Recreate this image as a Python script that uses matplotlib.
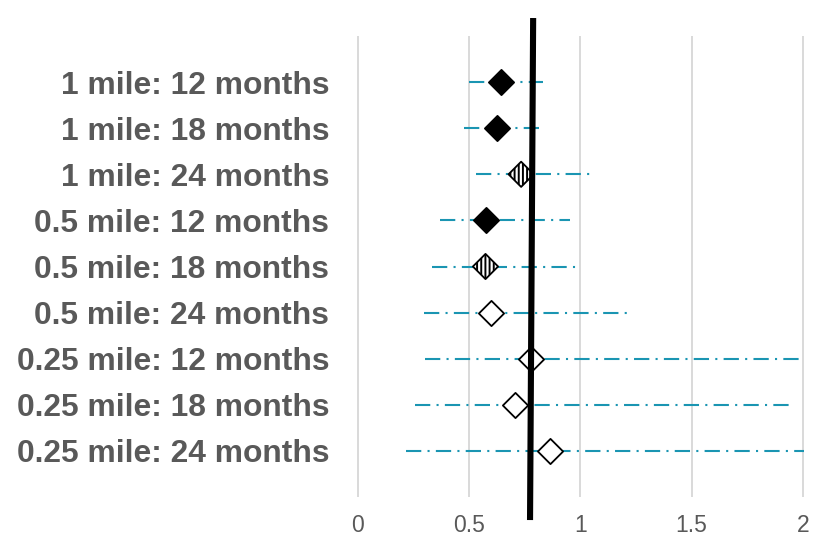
import matplotlib
matplotlib.use("Agg")
import matplotlib.pyplot as plt

plt.rcParams['font.family'] = ['Liberation Sans', 'DejaVu Sans']
plt.rcParams['hatch.linewidth'] = 1.4
plt.rcParams['lines.scale_dashes'] = False

labels = ["1 mile: 12 months", "1 mile: 18 months", "1 mile: 24 months",
          "0.5 mile: 12 months", "0.5 mile: 18 months", "0.5 mile: 24 months",
          "0.25 mile: 12 months", "0.25 mile: 18 months", "0.25 mile: 24 months"]
estimate = [0.644, 0.627, 0.734, 0.575, 0.574, 0.599, 0.777, 0.708, 0.865]
ci_low = [0.500, 0.479, 0.531, 0.370, 0.332, 0.299, 0.301, 0.259, 0.218]
ci_high = [0.831, 0.822, 1.048, 0.954, 1.002, 1.210, 1.997, 1.945, 2.005]
# marker style per row: filled / hatched / open
style = ["filled", "filled", "hatched", "filled", "hatched",
         "open", "open", "open", "open"]
# reference line (drawn slightly tilted in the original)
ref_x = [0.788, 0.774]
ref_y = [-0.39, 10.5]

teal = "#1a95b2"
grey = "#595959"

fig = plt.figure(figsize=(8.17, 5.38), dpi=100)
ax = fig.add_axes([350 / 817, 1 - 497 / 538, 456 / 817, 461 / 538])

rows = list(range(1, len(labels) + 1))

for r, lo, hi in zip(rows, ci_low, ci_high):
    ax.plot([lo, hi], [r, r], color=teal, lw=1.5,
            linestyle=(0, (11, 4.5, 1.5, 4.5)), zorder=2)

for r, est, st in zip(rows, estimate, style):
    if st == "filled":
        ax.scatter([est], [r], marker="D", s=165, facecolor="black",
                   edgecolor="black", linewidth=1.3, zorder=3)
    elif st == "hatched":
        ax.scatter([est], [r], marker="D", s=165, facecolor="white",
                   edgecolor="black", hatch="||||", linewidth=1.3, zorder=3)
    else:
        ax.scatter([est], [r], marker="D", s=165, facecolor="white",
                   edgecolor="black", linewidth=1.3, zorder=3)

ax.plot(ref_x, ref_y, color="black", lw=4.4, solid_capstyle="butt",
        clip_on=False, zorder=4)

ax.set_xlim(-0.0346, 2.0135)
ax.set_ylim(10, 0)
ax.set_xticks([0, 0.5, 1, 1.5, 2])
ax.set_xticklabels(["0", "0.5", "1", "1.5", "2"])
ax.set_yticks(rows)
ax.set_yticklabels(labels, fontweight="bold")
ax.tick_params(axis="y", length=0, pad=15, labelsize=22.9, labelcolor=grey)
ax.tick_params(axis="x", length=0, pad=12, labelsize=16.5, labelcolor=grey)
ax.grid(axis="x", color="#d9d9d9", lw=1.4)
ax.set_axisbelow(True)
for sp in ax.spines.values():
    sp.set_visible(False)

fig.savefig("out.png", dpi=100)
